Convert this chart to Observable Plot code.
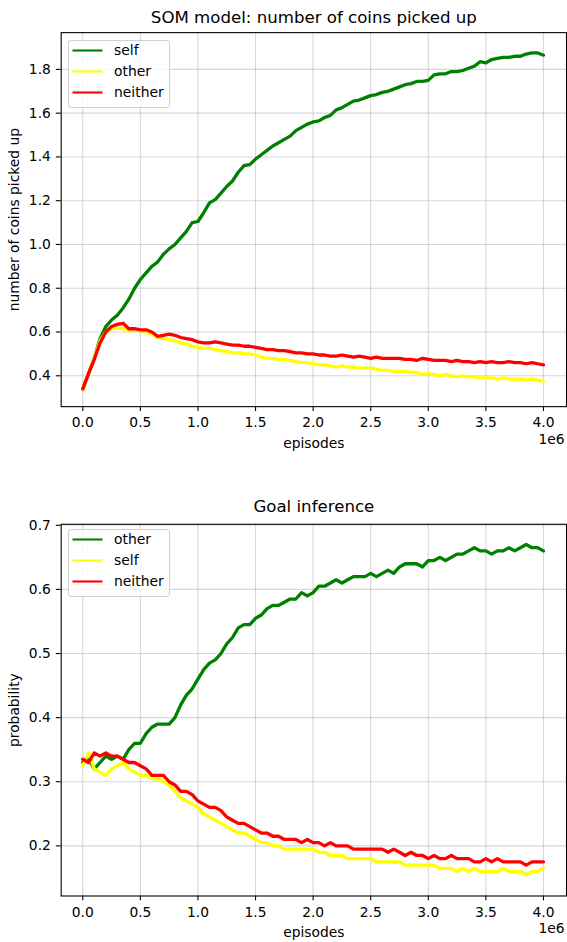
<!DOCTYPE html>
<html>
<head>
<meta charset="utf-8">
<script src="https://cdn.jsdelivr.net/npm/d3@7"></script>
<script src="https://cdn.jsdelivr.net/npm/@observablehq/plot@0.6"></script>
<style>
  html, body { margin: 0; padding: 0; background: #fff; overflow: hidden; }
  #wrap { position: relative; width: 567px; height: 942px; overflow: hidden; background: #fff; font-family: "DejaVu Sans", sans-serif; }
  .chart { position: absolute; left: 0; }
  .legend { position: absolute; box-sizing: border-box; border: 1px solid #d0d0d0; border-radius: 3px; background: rgba(255,255,255,0.8); }
</style>
</head>
<body>
<div id="wrap"></div>
<script>
// episodes, in units of 1e6
const episodes = [0.00,0.05,0.10,0.15,0.20,0.25,0.30,0.35,0.40,0.45,
  0.50,0.55,0.60,0.65,0.70,0.75,0.80,0.85,0.90,0.95,
  1.00,1.05,1.10,1.15,1.20,1.25,1.30,1.35,1.40,1.45,
  1.50,1.55,1.60,1.65,1.70,1.75,1.80,1.85,1.90,1.95,
  2.00,2.05,2.10,2.15,2.20,2.25,2.30,2.35,2.40,2.45,
  2.50,2.55,2.60,2.65,2.70,2.75,2.80,2.85,2.90,2.95,
  3.00,3.05,3.10,3.15,3.20,3.25,3.30,3.35,3.40,3.45,
  3.50,3.55,3.60,3.65,3.70,3.75,3.80,3.85,3.90,3.95,
  4.00];

// SOM model: number of coins picked up
const somSelf = [0.336,0.41,0.48,0.57,0.625,0.655,0.677,0.71,0.75,0.80,
  0.84,0.87,0.90,0.92,0.955,0.98,1.00,1.03,1.06,1.10,
  1.105,1.145,1.19,1.205,1.235,1.265,1.29,1.33,1.36,1.365,
  1.39,1.41,1.43,1.45,1.465,1.48,1.495,1.52,1.535,1.55,
  1.56,1.565,1.58,1.59,1.615,1.625,1.64,1.655,1.66,1.67,
  1.68,1.685,1.695,1.70,1.71,1.72,1.73,1.735,1.745,1.745,
  1.75,1.775,1.78,1.78,1.79,1.79,1.795,1.805,1.815,1.835,
  1.83,1.845,1.85,1.855,1.855,1.86,1.86,1.87,1.875,1.875,
  1.865];
const somOther = [0.335,0.41,0.48,0.56,0.60,0.615,0.62,0.615,0.605,0.61,
  0.605,0.60,0.59,0.575,0.57,0.565,0.56,0.55,0.545,0.535,
  0.53,0.525,0.525,0.52,0.515,0.51,0.505,0.505,0.50,0.50,
  0.495,0.485,0.48,0.48,0.475,0.475,0.47,0.465,0.46,0.46,
  0.455,0.45,0.45,0.445,0.44,0.445,0.44,0.44,0.435,0.435,
  0.435,0.43,0.425,0.425,0.42,0.42,0.42,0.415,0.415,0.405,
  0.41,0.405,0.40,0.405,0.40,0.395,0.40,0.395,0.395,0.39,
  0.39,0.39,0.385,0.39,0.385,0.385,0.385,0.38,0.385,0.38,
  0.375];
const somNeither = [0.34,0.41,0.475,0.55,0.60,0.625,0.635,0.64,0.615,0.615,
  0.61,0.61,0.60,0.58,0.585,0.59,0.585,0.575,0.57,0.565,
  0.555,0.55,0.55,0.555,0.55,0.545,0.54,0.54,0.535,0.535,
  0.53,0.525,0.52,0.52,0.515,0.515,0.51,0.505,0.505,0.50,
  0.50,0.495,0.495,0.49,0.49,0.495,0.49,0.485,0.49,0.485,
  0.48,0.485,0.48,0.48,0.48,0.48,0.475,0.475,0.47,0.48,
  0.475,0.47,0.47,0.47,0.465,0.47,0.465,0.465,0.46,0.465,
  0.46,0.465,0.46,0.46,0.465,0.46,0.46,0.455,0.46,0.455,
  0.45];

// Goal inference: probability
const goalOther = [0.33,0.335,0.32,0.33,0.34,0.335,0.34,0.335,0.35,0.36,
  0.36,0.375,0.385,0.39,0.39,0.39,0.40,0.42,0.435,0.445,
  0.46,0.475,0.485,0.49,0.50,0.515,0.525,0.54,0.545,0.545,
  0.555,0.56,0.57,0.575,0.575,0.58,0.585,0.585,0.595,0.59,
  0.595,0.605,0.605,0.61,0.615,0.61,0.615,0.62,0.62,0.62,
  0.625,0.62,0.625,0.63,0.625,0.635,0.64,0.64,0.64,0.635,
  0.645,0.645,0.65,0.645,0.65,0.655,0.655,0.66,0.665,0.66,
  0.66,0.655,0.66,0.66,0.665,0.66,0.665,0.67,0.665,0.665,
  0.66];
const goalSelf = [0.325,0.345,0.32,0.315,0.31,0.32,0.325,0.33,0.32,0.315,
  0.31,0.31,0.305,0.305,0.30,0.295,0.285,0.275,0.27,0.265,
  0.26,0.25,0.245,0.24,0.235,0.23,0.225,0.22,0.22,0.215,
  0.21,0.205,0.205,0.20,0.20,0.195,0.195,0.195,0.195,0.195,
  0.195,0.19,0.19,0.185,0.185,0.185,0.18,0.18,0.18,0.18,
  0.18,0.175,0.175,0.175,0.175,0.175,0.17,0.17,0.17,0.17,
  0.17,0.17,0.165,0.165,0.165,0.16,0.165,0.16,0.165,0.16,
  0.16,0.16,0.16,0.165,0.16,0.16,0.16,0.155,0.16,0.16,
  0.165];
const goalNeither = [0.335,0.33,0.345,0.34,0.345,0.34,0.34,0.335,0.33,0.33,
  0.325,0.32,0.31,0.31,0.31,0.30,0.295,0.285,0.285,0.28,
  0.27,0.265,0.26,0.26,0.255,0.245,0.24,0.235,0.235,0.23,
  0.225,0.22,0.22,0.215,0.215,0.21,0.21,0.21,0.205,0.21,
  0.205,0.205,0.20,0.205,0.20,0.20,0.20,0.195,0.195,0.195,
  0.195,0.195,0.195,0.19,0.195,0.19,0.185,0.19,0.185,0.185,
  0.18,0.185,0.18,0.18,0.185,0.18,0.18,0.18,0.175,0.175,
  0.18,0.175,0.18,0.175,0.175,0.175,0.175,0.17,0.175,0.175,
  0.175];

const xTicks = [0, 0.5, 1.0, 1.5, 2.0, 2.5, 3.0, 3.5, 4.0];
const somYTicks = [0.4, 0.6, 0.8, 1.0, 1.2, 1.4, 1.6, 1.8];
const goalYTicks = [0.2, 0.3, 0.4, 0.5, 0.6, 0.7];
const somNames = ["self", "other", "neither"];
const goalNames = ["other", "self", "neither"];
const lineColors = ["green", "yellow", "red"];

const TICK_FS = 13.9, TITLE_FS = 16.7;

function makeChart(cfg) {
  const series = cfg.names.map((name, k) => ({
    name, color: lineColors[k],
    data: episodes.map((e, i) => ({x: e, y: cfg.values[k][i]}))
  }));
  const chart = Plot.plot({
    width: 570, height: cfg.height,
    marginLeft: 61, marginRight: 1, marginTop: cfg.marginTop, marginBottom: cfg.marginBottom,
    style: {fontFamily: "DejaVu Sans", fontSize: TICK_FS + "px", color: "#000", background: "transparent", overflow: "visible"},
    x: {domain: [-0.1875, 4.2]},
    y: {domain: cfg.yDomain},
    marks: [
      Plot.gridX(xTicks, {stroke: "#b0b0b0", strokeOpacity: 0.5, strokeWidth: 1.1}),
      Plot.gridY(cfg.yTicks, {stroke: "#b0b0b0", strokeOpacity: 0.5, strokeWidth: 1.1}),
      ...series.map(s => Plot.line(s.data, {x: "x", y: "y", stroke: s.color, strokeWidth: 3.3, strokeLinejoin: "round"})),
      Plot.frame({stroke: "#000", strokeWidth: 1.1}),
      Plot.axisX(xTicks, {tickSize: 4.9, tickPadding: 6, tickFormat: d3.format(".1f"), label: null, fontSize: TICK_FS, strokeWidth: 1.1}),
      Plot.axisY(cfg.yTicks, {tickSize: 4.9, tickPadding: 5.5, tickFormat: d3.format(".1f"), label: null, fontSize: TICK_FS, strokeWidth: 1.1}),
      Plot.text([cfg.title], {frameAnchor: "top", lineAnchor: "bottom", dy: -cfg.titleGap, fontSize: TITLE_FS, fill: "#000"}),
      Plot.text(["episodes"], {frameAnchor: "bottom", lineAnchor: "middle", dy: 37, fontSize: TICK_FS, fill: "#000"}),
      Plot.text(["1e6"], {frameAnchor: "bottom-right", textAnchor: "end", lineAnchor: "middle", dx: -2, dy: 33, fontSize: TICK_FS, fill: "#000"}),
      Plot.text([cfg.yLabel], {frameAnchor: "left", textAnchor: "middle", rotate: -90, lineAnchor: "middle", dx: -47, fontSize: TICK_FS, fill: "#000"})
    ]
  });
  chart.classList.add("chart");
  chart.style.top = cfg.top + "px";
  document.getElementById("wrap").appendChild(chart);

  // legend (upper left)
  const lg = document.createElement("div");
  lg.className = "legend";
  lg.style.left = "68px";
  lg.style.top = cfg.legendTop + "px";
  lg.style.width = "102px";
  lg.style.height = "68px";
  const svg = d3.create("svg").attr("width", 102).attr("height", 68)
    .style("position", "absolute").style("left", "-1px").style("top", "-1px");
  series.forEach((s, k) => {
    const y = 10.5 + k * 21;
    svg.append("line").attr("x1", 4.5).attr("x2", 34.5).attr("y1", y).attr("y2", y)
      .attr("stroke", s.color).attr("stroke-width", 2.1);
    svg.append("text").attr("x", 46).attr("y", y).attr("dy", "0.35em")
      .attr("font-family", "DejaVu Sans").attr("font-size", TICK_FS).attr("fill", "#000").text(s.name);
  });
  lg.appendChild(svg.node());
  document.getElementById("wrap").appendChild(lg);
}

makeChart({
  title: "SOM model: number of coins picked up",
  yLabel: "number of coins picked up",
  names: somNames,
  values: [somSelf, somOther, somNeither],
  yDomain: [0.259, 1.968],
  yTicks: somYTicks,
  top: 0, height: 460, marginTop: 32.3, marginBottom: 51.7,
  titleGap: 9.5, legendTop: 40
});

makeChart({
  title: "Goal inference",
  yLabel: "probability",
  names: goalNames,
  values: [goalOther, goalSelf, goalNeither],
  yDomain: [0.1218, 0.7016],
  yTicks: goalYTicks,
  top: 480, height: 462, marginTop: 44, marginBottom: 44.3,
  titleGap: 12, legendTop: 529
});
</script>
</body>
</html>
